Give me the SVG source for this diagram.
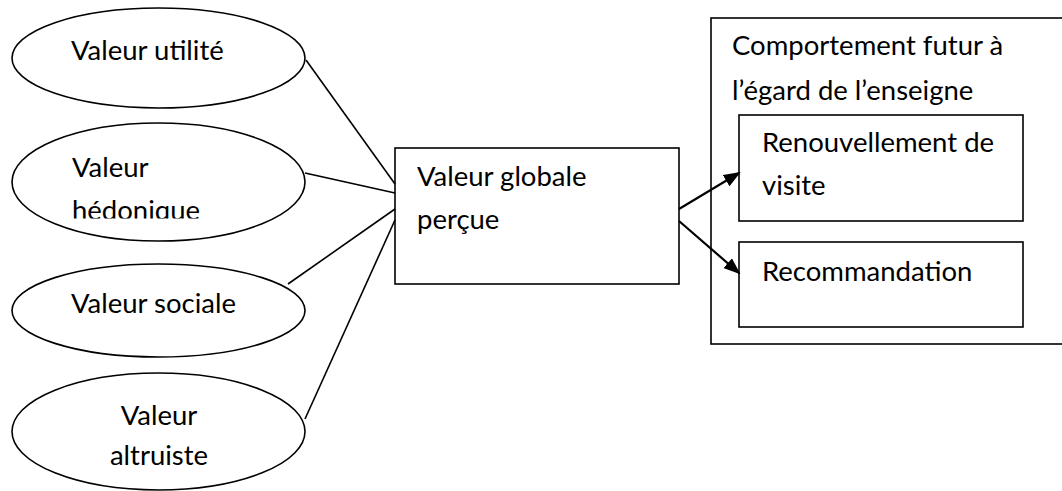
<svg xmlns="http://www.w3.org/2000/svg" width="1062" height="491" viewBox="0 0 1062 491">
<style>
.shape{fill:#fff;stroke:#000;stroke-width:1.6}
.lbl{font-family:Lato,"Liberation Sans",sans-serif;font-size:27.5px;fill:#000}
.mid{text-anchor:middle}
.con{stroke:#000;stroke-width:1.6;fill:none}
.arr{stroke:#000;stroke-width:2.2;fill:none}
</style>
<defs>
<marker id="ah" markerWidth="17" markerHeight="13" refX="15" refY="6.5" orient="auto" markerUnits="userSpaceOnUse">
<path d="M0,0 L17,6.5 L0,13 Z" fill="#000"/>
</marker>
<clipPath id="clipHed"><rect x="0" y="0" width="320" height="218.5"/></clipPath>
</defs>
<rect width="1062" height="491" fill="#fff"/>
<g id="node-comportement">
<rect class="shape" x="711" y="18" width="360" height="326"/>
<text class="lbl" x="732" y="55">Comportement futur à</text>
<text class="lbl" x="732" y="100">l’égard de l’enseigne</text>
</g>
<g id="node-renouvellement">
<rect class="shape" x="739" y="115" width="284" height="106"/>
<text class="lbl" x="762" y="152">Renouvellement de</text>
<text class="lbl" x="762" y="195">visite</text>
</g>
<g id="node-recommandation">
<rect class="shape" x="739" y="242" width="284" height="85"/>
<text class="lbl" x="762" y="281">Recommandation</text>
</g>
<g id="node-utilite">
<ellipse class="shape" cx="158.5" cy="58" rx="146.5" ry="50"/>
<text class="lbl" x="71" y="60">Valeur utilité</text>
</g>
<g id="node-hedonique">
<ellipse class="shape" cx="158.5" cy="182" rx="146.5" ry="59"/>
<text class="lbl" x="72" y="177">Valeur</text>
<text class="lbl" x="72" y="220" clip-path="url(#clipHed)">hédonique</text>
</g>
<g id="node-sociale">
<ellipse class="shape" cx="158.5" cy="310.5" rx="146.5" ry="46.5"/>
<text class="lbl" x="71" y="313">Valeur sociale</text>
</g>
<g id="node-altruiste">
<ellipse class="shape" cx="158.5" cy="431.5" rx="146.5" ry="58.5"/>
<text class="lbl mid" x="159" y="425">Valeur</text>
<text class="lbl mid" x="159" y="465">altruiste</text>
</g>
<g id="node-globale">
<rect class="shape" x="395" y="148" width="284" height="136"/>
<text class="lbl" x="417" y="186">Valeur globale</text>
<text class="lbl" x="417" y="229">perçue</text>
</g>
<g id="connectors">
<line class="con" x1="306" y1="60" x2="395" y2="184"/>
<line class="con" x1="305" y1="173" x2="395" y2="193"/>
<line class="con" x1="288" y1="284" x2="395" y2="209"/>
<line class="con" x1="305" y1="419" x2="395" y2="220"/>
<line class="arr" x1="679" y1="209" x2="739" y2="173" marker-end="url(#ah)"/>
<line class="arr" x1="679" y1="221" x2="739" y2="273" marker-end="url(#ah)"/>
</g>
</svg>
